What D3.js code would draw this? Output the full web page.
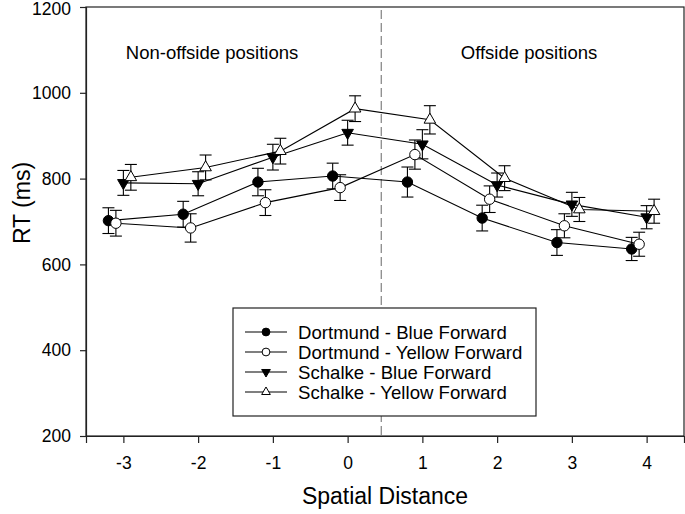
<!DOCTYPE html>
<html><head><meta charset="utf-8">
<script src="https://cdn.jsdelivr.net/npm/d3@7"></script>
<style>body{margin:0;background:#fff}svg{display:block;font-family:"Liberation Sans",Arial,sans-serif}</style>
</head><body><svg id="c" width="685" height="514"></svg>
<script>
const xValues = [-3, -2, -1, 0, 1, 2, 3, 4];
const seriesNames = ["Dortmund - Blue Forward", "Dortmund - Yellow Forward", "Schalke - Blue Forward", "Schalke - Yellow Forward"];
const dortmundBlue = [702, 717, 792, 806, 792, 708, 651, 636];
const dortmundBlueErr = [30, 30, 32, 30, 35, 30, 30, 27];
const dortmundYellow = [696, 685, 744, 779, 856, 752, 690, 647];
const dortmundYellowErr = [30, 33, 30, 30, 34, 31, 28, 28];
const schalkeBlue = [790, 788, 850, 907, 880, 785, 740, 710];
const schalkeBlueErr = [29, 28, 30, 29, 34, 28, 28, 27];
const schalkeYellow = [803, 826, 864, 963, 937, 801, 728, 724];
const schalkeYellowErr = [30, 29, 30, 30, 33, 29, 28, 28];
const yTicks = [200, 400, 600, 800, 1000, 1200];
const xTicks = [-3, -2, -1, 0, 1, 2, 3, 4];
const dividerX = 0.45;
const regionLabels = ["Non-offside positions", "Offside positions"];

const svg = d3.select("#c");
const L = 86, R = 684, T = 7, B = 436;
const x = d3.scaleLinear().domain([-3.5, 4.5]).range([L, R]);
const y = d3.scaleLinear().domain([200, 1200]).range([B, T]);
const font = '"Liberation Sans",Arial,sans-serif';

const series = [
  {name: seriesNames[0], v: dortmundBlue, e: dortmundBlueErr, sym: "circle", fill: "#000", off: -0.2},
  {name: seriesNames[1], v: dortmundYellow, e: dortmundYellowErr, sym: "circle", fill: "#fff", off: -0.1},
  {name: seriesNames[2], v: schalkeBlue, e: schalkeBlueErr, sym: "down", fill: "#000", off: 0},
  {name: seriesNames[3], v: schalkeYellow, e: schalkeYellowErr, sym: "up", fill: "#fff", off: 0.1}
];

// frame
svg.append("rect").attr("x", L).attr("y", T).attr("width", R - L).attr("height", B - T)
  .attr("fill", "none").attr("stroke", "#222").attr("stroke-width", 1.2);

// axes
const yAxis = d3.axisLeft(y).tickValues(yTicks).tickSize(6).tickPadding(9).tickFormat(d => String(d));
const gy = svg.append("g").attr("transform", `translate(${L},0)`).call(yAxis);
const xAxis = d3.axisBottom(x).tickValues(xTicks).tickSize(7).tickPadding(14).tickFormat(d => String(d));
const gx = svg.append("g").attr("transform", `translate(0,${B})`).call(xAxis);
[gy, gx].forEach(g => {
  g.select(".domain").attr("stroke", "#222").attr("stroke-width", 1.2);
  g.selectAll(".tick line").attr("stroke", "#222").attr("stroke-width", 1.2);
  g.selectAll(".tick text").attr("font-size", 17.5).attr("font-family", font).attr("fill", "#000");
});
gy.selectAll(".tick text").filter(d => d === 1200).attr("dy", "0.4em");

// axis titles
svg.append("text").attr("x", 385).attr("y", 504).attr("text-anchor", "middle")
  .attr("font-size", 23).attr("font-family", font).text("Spatial Distance");
svg.append("text").attr("transform", "translate(30,203) rotate(-90)").attr("text-anchor", "middle")
  .attr("font-size", 23).attr("font-family", font).text("RT (ms)");

// divider
svg.append("line").attr("x1", x(dividerX)).attr("x2", x(dividerX)).attr("y1", T + 3).attr("y2", B)
  .attr("stroke", "#808080").attr("stroke-width", 1.2).attr("stroke-dasharray", "9,4");

// region labels
svg.append("text").attr("x", 212).attr("y", 59).attr("text-anchor", "middle")
  .attr("font-size", 18.5).attr("font-family", font).text(regionLabels[0]);
svg.append("text").attr("x", 529).attr("y", 59).attr("text-anchor", "middle")
  .attr("font-size", 18.5).attr("font-family", font).text(regionLabels[1]);

function drawMarker(g, s, cx, cy, scale) {
  if (s.sym === "circle") {
    g.append("circle").attr("cx", cx).attr("cy", cy).attr("r", 5.2 * scale)
      .attr("fill", s.fill).attr("stroke", "#000").attr("stroke-width", 1);
  } else {
    const sym = d3.symbol().type(d3.symbolTriangle).size(58 * scale * scale);
    g.append("path").attr("d", sym())
      .attr("transform", `translate(${cx},${cy})` + (s.sym === "down" ? " rotate(180)" : ""))
      .attr("fill", s.fill).attr("stroke", "#000").attr("stroke-width", 1);
  }
}

const line = d3.line().x(d => x(d[0])).y(d => y(d[1]));
const plot = svg.append("g");
series.forEach(s => {
  const pts = xValues.map((xv, i) => [xv + s.off, s.v[i], s.e[i]]);
  plot.append("path").attr("d", line(pts)).attr("fill", "none").attr("stroke", "#000").attr("stroke-width", 1.1);
});
series.forEach(s => {
  xValues.forEach((xv, i) => {
    const cx = x(xv + s.off), lo = y(s.v[i] - s.e[i]), hi = y(s.v[i] + s.e[i]);
    plot.append("line").attr("x1", cx).attr("x2", cx).attr("y1", lo).attr("y2", hi).attr("stroke", "#000").attr("stroke-width", 1.1);
    [lo, hi].forEach(yy => plot.append("line").attr("x1", cx - 6).attr("x2", cx + 6).attr("y1", yy).attr("y2", yy).attr("stroke", "#000").attr("stroke-width", 1.1));
  });
});
series.forEach(s => {
  xValues.forEach((xv, i) => drawMarker(plot, s, x(xv + s.off), y(s.v[i]), 1));
});

// legend
const lg = svg.append("g");
lg.append("rect").attr("x", 233).attr("y", 308).attr("width", 303).attr("height", 108)
  .attr("fill", "#fff").attr("stroke", "#222").attr("stroke-width", 1.2);
series.forEach((s, i) => {
  const cy = 332 + i * 20;
  lg.append("line").attr("x1", 245).attr("x2", 287).attr("y1", cy).attr("y2", cy).attr("stroke", "#000").attr("stroke-width", 1.1);
  drawMarker(lg, s, 266, cy, 0.75);
  lg.append("text").attr("x", 298).attr("y", cy + 6.5).attr("font-size", 18.6).attr("font-family", font).text(s.name);
});
</script></body></html>
